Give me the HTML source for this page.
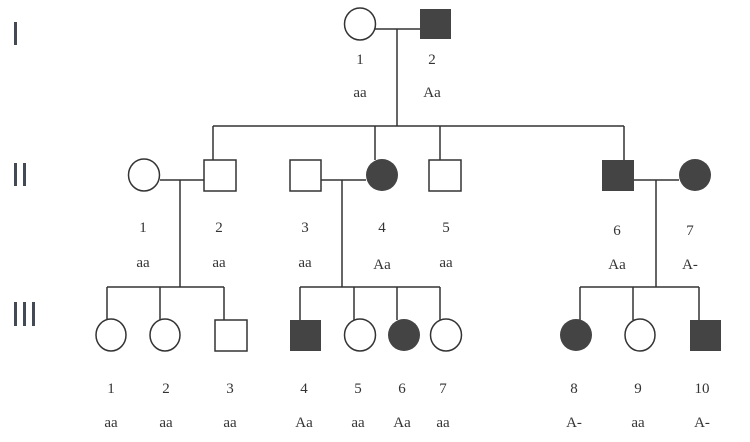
<!DOCTYPE html>
<html><head><style>html,body{margin:0;padding:0;background:#fff}svg{display:block}</style></head>
<body>
<svg width="750" height="442" viewBox="0 0 750 442" xmlns="http://www.w3.org/2000/svg">
<g fill="#444a55"><rect x="14" y="22" width="3" height="23"/>
<rect x="14" y="163" width="3" height="23"/><rect x="23" y="163" width="3" height="23"/>
<rect x="14" y="302" width="3" height="24"/><rect x="23" y="302" width="3" height="24"/><rect x="32" y="302" width="3" height="24"/></g>
<g stroke="#333" stroke-width="1.5" fill="none">
<line x1="375" y1="29" x2="420" y2="29"/><line x1="397" y1="29" x2="397" y2="126"/>
<line x1="213" y1="126" x2="624" y2="126"/>
<line x1="213" y1="126" x2="213" y2="160"/><line x1="375" y1="126" x2="375" y2="160"/>
<line x1="440" y1="126" x2="440" y2="160"/><line x1="624" y1="126" x2="624" y2="160"/>
<line x1="160" y1="180" x2="204" y2="180"/><line x1="180" y1="180" x2="180" y2="287"/>
<line x1="321" y1="180" x2="366" y2="180"/><line x1="342" y1="180" x2="342" y2="287"/>
<line x1="634" y1="180" x2="679" y2="180"/><line x1="656" y1="180" x2="656" y2="287"/>
<line x1="107" y1="287" x2="224" y2="287"/>
<line x1="107" y1="287" x2="107" y2="320"/><line x1="160" y1="287" x2="160" y2="320"/><line x1="224" y1="287" x2="224" y2="320"/>
<line x1="300" y1="287" x2="440" y2="287"/>
<line x1="300" y1="287" x2="300" y2="320"/><line x1="354" y1="287" x2="354" y2="320"/><line x1="397" y1="287" x2="397" y2="320"/><line x1="440" y1="287" x2="440" y2="320"/>
<line x1="580" y1="287" x2="699" y2="287"/>
<line x1="580" y1="287" x2="580" y2="320"/><line x1="633" y1="287" x2="633" y2="320"/><line x1="699" y1="287" x2="699" y2="320"/>
</g>
<g stroke="#333" stroke-width="1.5" fill="#fff">
<ellipse cx="360" cy="24" rx="15.5" ry="16"/>
<ellipse cx="144" cy="175" rx="15.5" ry="16"/>
<rect x="204" y="160" width="32" height="31"/>
<rect x="290" y="160" width="31" height="31"/>
<rect x="429" y="160" width="32" height="31"/>
<ellipse cx="111" cy="335" rx="15" ry="16"/>
<ellipse cx="165" cy="335" rx="15" ry="16"/>
<rect x="215" y="320" width="32" height="31"/>
<ellipse cx="360" cy="335" rx="15.5" ry="16"/>
<ellipse cx="446" cy="335" rx="15.5" ry="16"/>
<ellipse cx="640" cy="335" rx="15" ry="16"/>
</g>
<g fill="#444">
<rect x="420" y="9" width="31" height="30"/>
<ellipse cx="382" cy="175" rx="16" ry="16"/>
<rect x="602" y="160" width="32" height="31"/>
<ellipse cx="695" cy="175" rx="16" ry="16"/>
<rect x="290" y="320" width="31" height="31"/>
<ellipse cx="404" cy="335" rx="16" ry="16"/>
<ellipse cx="576" cy="335" rx="16" ry="16"/>
<rect x="690" y="320" width="31" height="31"/>
</g>
<g font-family="Liberation Serif, serif" font-size="15" fill="#333" text-anchor="middle">
<text x="360" y="64">1</text><text x="360" y="97">aa</text>
<text x="432" y="64">2</text><text x="432" y="97">Aa</text>
<text x="143" y="232">1</text><text x="143" y="267">aa</text>
<text x="219" y="232">2</text><text x="219" y="267">aa</text>
<text x="305" y="232">3</text><text x="305" y="267">aa</text>
<text x="382" y="232">4</text><text x="382" y="269">Aa</text>
<text x="446" y="232">5</text><text x="446" y="267">aa</text>
<text x="617" y="235">6</text><text x="617" y="269">Aa</text>
<text x="690" y="235">7</text><text x="690" y="269">A-</text>
<text x="111" y="393">1</text><text x="111" y="427">aa</text>
<text x="166" y="393">2</text><text x="166" y="427">aa</text>
<text x="230" y="393">3</text><text x="230" y="427">aa</text>
<text x="304" y="393">4</text><text x="304" y="427">Aa</text>
<text x="358" y="393">5</text><text x="358" y="427">aa</text>
<text x="402" y="393">6</text><text x="402" y="427">Aa</text>
<text x="443" y="393">7</text><text x="443" y="427">aa</text>
<text x="574" y="393">8</text><text x="574" y="427">A-</text>
<text x="638" y="393">9</text><text x="638" y="427">aa</text>
<text x="702" y="393">10</text><text x="702" y="427">A-</text>
</g>
</svg>
</body></html>
